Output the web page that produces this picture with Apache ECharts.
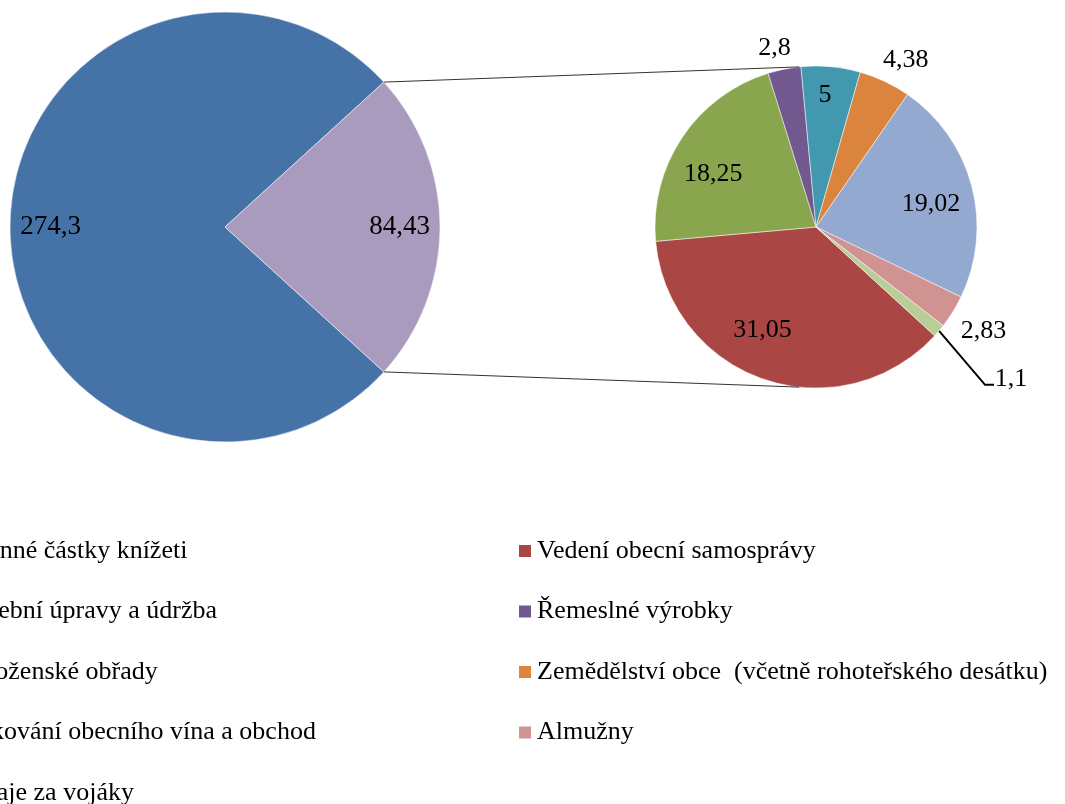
<!DOCTYPE html>
<html>
<head>
<meta charset="utf-8">
<script src="https://cdn.jsdelivr.net/npm/echarts@6/dist/echarts.min.js"></script>
<style>
    html, body { margin: 0; padding: 0; background: #fff; }
    #chartPie { width: 1065px; height: 804px; }
</style>
</head>
<body>
<div id="chartPie"></div>
<script>
    // hlavni kolac
    var bigNames = ['Povinné částky knížeti', 'Jiné'];
    var bigValues = [274.3, 84.43];
    var bigColors = ['#4572A7', '#A99BBD'];

    // rozpad "Jiné"
    var smallNames = ['Vedení obecní samosprávy', 'Stavební úpravy a údržba', 'Řemeslné výrobky',
        'Náboženské obřady', 'Zemědělství obce  (včetně rohoteřského desátku)',
        'Šenkování obecního vína a obchod', 'Almužny', 'Výdaje za vojáky'];
    var smallValues = [31.05, 18.25, 2.8, 5, 4.38, 19.02, 2.83, 1.1];
    var smallColors = ['#AA4643', '#89A54E', '#71588F', '#4198AF', '#DB843D', '#93A9CF', '#D19392', '#B9CD96'];

    // umisteni popisku v malem kolaci
    var smallLabelPos = ['inside', 'inside', 'outside', 'inside', 'outside', 'inside', 'outside', 'line'];
    var smallLabelLen = [0, 0, 25, 0, 30, 0, 35, 65];
    var smallNudge = [[-15, -10], [-3, 14], [0, 4], [-2, -12], [3, 6], [-1, 8], [-4, 1], [-8, 6]];

    var font = 'Liberation Serif';
    var big = { cx: 225, cy: 227, r: 215 };
    var small = { cx: 816, cy: 227, r: 161 };

    var allNames = [bigNames[0]].concat(smallNames);
    var leftLegend = allNames.filter(function (n, i) { return i % 2 === 0 });
    var rightLegend = allNames.filter(function (n, i) { return i % 2 === 1 });

    function fmt(p) {
        return String(p.value).replace('.', ',');
    }

    var chartPie = echarts.init(document.getElementById('chartPie'));

    // vysek "Jiné" je symetricky kolem 0 st.
    var bigTotal = bigValues[0] + bigValues[1];
    var half = bigValues[1] / bigTotal * 180;
    var bigStart = 360 - half;
    var smallStart = 317.5;
    var smallTotal = smallValues.reduce(function (a, b) { return a + b }, 0);

    var rad = Math.PI / 180;
    var p1 = [big.cx + big.r * Math.cos(half * rad), big.cy - big.r * Math.sin(half * rad)];
    var p2 = [big.cx + big.r * Math.cos(half * rad), big.cy + big.r * Math.sin(half * rad)];
    var q1 = [small.cx + small.r * Math.cos(96 * rad), small.cy - small.r * Math.sin(96 * rad)];
    var q2 = [small.cx + small.r * Math.cos(96 * rad), small.cy + small.r * Math.sin(96 * rad)];

    // vodici cara k malemu vyseku (jako v Excelu, ne radialne)
    function leaderPoints(i) {
        var before = 0;
        for (var k = 0; k < i; k++) before += smallValues[k];
        var a = (smallStart - (before + smallValues[i] / 2) / smallTotal * 360) * rad;
        var ex = small.cx + small.r * Math.cos(a);
        var ey = small.cy - small.r * Math.sin(a);
        return [[ex, ey], [ex + 46, ey + 54], [ex + 55, ey + 54]];
    }

    var legendBase = {
        orient: 'vertical',
        top: 536,
        height: 320,
        padding: 0,
        icon: 'rect',
        itemWidth: 14,
        itemHeight: 14,
        itemGap: 30.5,
        selectedMode: false,
        textStyle: { fontFamily: font, fontSize: 26, color: '#000', lineHeight: 30 }
    };

    var option = {
        backgroundColor: '#fff',
        animation: false,
        legend: [
            Object.assign({}, legendBase, { left: -68, data: leftLegend }),
            Object.assign({}, legendBase, { left: 517, data: rightLegend })
        ],
        graphic: [
            { type: 'line', shape: { x1: p1[0], y1: p1[1], x2: q1[0], y2: q1[1] }, style: { stroke: '#333', lineWidth: 1 }, z: 10 },
            { type: 'line', shape: { x1: p2[0], y1: p2[1], x2: q2[0], y2: q2[1] }, style: { stroke: '#333', lineWidth: 1 }, z: 10 }
        ],
        series: [
            {
                name: 'hlavni',
                type: 'pie',
                center: [big.cx, big.cy],
                radius: [0, big.r],
                startAngle: bigStart,
                clockwise: true,
                avoidLabelOverlap: false,
                label: { show: false },
                labelLine: { show: false },
                itemStyle: { borderColor: '#fff', borderWidth: 0.5 },
                emphasis: { disabled: true },
                data: bigNames.map(function (n, i) {
                    return { name: n, value: bigValues[i], itemStyle: { color: bigColors[i] } }
                })
            },
            {
                name: 'rozpad',
                type: 'pie',
                center: [small.cx, small.cy],
                radius: [0, small.r],
                startAngle: smallStart,
                clockwise: true,
                avoidLabelOverlap: false,
                label: { show: false },
                labelLine: { show: false },
                itemStyle: { borderColor: '#fff', borderWidth: 0.5 },
                emphasis: { disabled: true },
                data: smallNames.map(function (n, i) {
                    return { name: n, value: smallValues[i], itemStyle: { color: smallColors[i] } }
                })
            },
            // popisky velkeho kolace (prstenec, aby byly u okraje)
            {
                name: 'hlavni-popisky',
                type: 'pie',
                silent: true,
                center: [big.cx, big.cy],
                radius: [128, big.r],
                startAngle: bigStart,
                avoidLabelOverlap: false,
                itemStyle: { color: 'transparent' },
                label: { show: true, position: 'inside', formatter: fmt, fontFamily: font, fontSize: 27, color: '#000' },
                labelLine: { show: false },
                data: bigNames.map(function (n, i) {
                    return { name: n, value: bigValues[i] }
                })
            },
            // popisky maleho kolace
            {
                name: 'rozpad-popisky',
                type: 'pie',
                silent: true,
                center: [small.cx, small.cy],
                radius: [73, small.r],
                startAngle: smallStart,
                avoidLabelOverlap: false,
                itemStyle: { color: 'transparent' },
                label: { show: true, formatter: fmt, fontFamily: font, fontSize: 26, color: '#000' },
                data: smallNames.map(function (n, i) {
                    var pos = smallLabelPos[i];
                    var item = { name: n, value: smallValues[i] };
                    if (pos === 'inside') {
                        item.label = { position: 'inside' };
                        item.labelLine = { show: false };
                    } else if (pos === 'outside') {
                        item.label = { position: 'outside' };
                        item.labelLine = { show: false, length: smallLabelLen[i], length2: 0 };
                    } else {
                        item.label = { position: 'outside' };
                        item.labelLine = { show: true, length: smallLabelLen[i], length2: 9, lineStyle: { color: '#000', width: 2 } };
                    }
                    return item;
                }),
                labelLayout: function (params) {
                    var i = params.dataIndex;
                    var res = { dx: smallNudge[i][0], dy: smallNudge[i][1] };
                    if (smallLabelPos[i] === 'outside') res.align = 'center';
                    if (smallLabelPos[i] === 'line') res.labelLinePoints = leaderPoints(i);
                    return res;
                }
            }
        ]
    };

    chartPie.setOption(option);
</script>
</body>
</html>
